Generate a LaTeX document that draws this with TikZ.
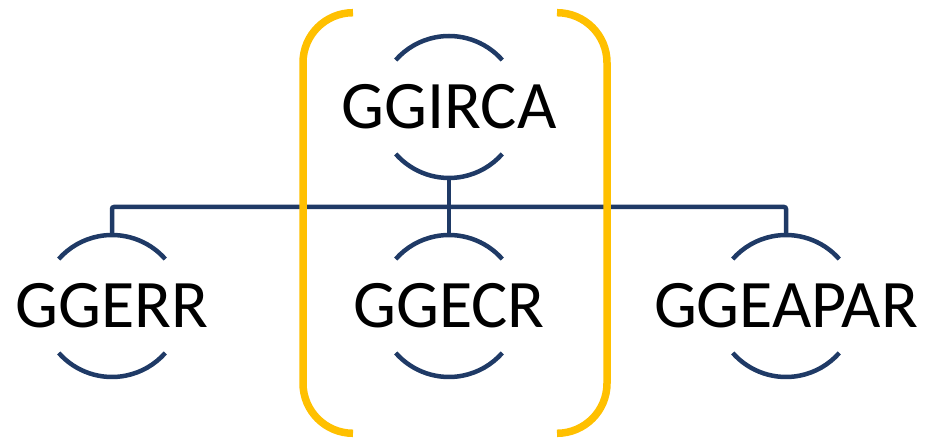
\documentclass[tikz,border=0pt]{standalone}
\usepackage{fontspec}
\setmainfont{Carlito}
\definecolor{navy}{RGB}{31,58,102}
\definecolor{gold}{RGB}{255,192,0}
\begin{document}
\begin{tikzpicture}[x=1pt,y=1pt,
  lbl/.style={inner sep=0pt, text=black, font=\fontsize{68}{80}\selectfont},
  ring/.style={draw=navy, line width=4.5pt},
  link/.style={draw=navy, line width=4.5pt, rounded corners=2pt},
  brk/.style={draw=gold, line width=7.5pt}]
\useasboundingbox (0,0) rectangle (936,439);
% nodes
\node[lbl] (ircA) at (449,332) {GGIRCA};
\node[lbl] (err)  at (112,133) {GGERR};
\node[lbl] (ecr)  at (449,133) {GGECR};
\node[lbl] (apar) at (786,133) {GGEAPAR};
% rings
\foreach \n in {ircA,err,ecr,apar}{
  \draw[ring] ([shift={(41.4:71)}]\n.center) arc[start angle=41.4,end angle=138.6,radius=71];
  \draw[ring] ([shift={(221.4:71)}]\n.center) arc[start angle=221.4,end angle=318.6,radius=71];
}
% bar
\coordinate (barL) at (112,232);
\draw[link] ([yshift=71]err.center) -- (err.center |- barL) -- (apar.center |- barL) -- ([yshift=71]apar.center);
\draw[link] ([yshift=-71]ircA.center) -- (ircA.center |- barL);
\draw[link] (ecr.center |- barL) -- ([yshift=71]ecr.center);
% brackets
\draw[brk] (353,426.3) arc[start angle=90,end angle=180,radius=50] -- (303,55.7) arc[start angle=180,end angle=270,radius=50];
\draw[brk] (557,426.3) arc[start angle=90,end angle=0,radius=50] -- (607,55.7) arc[start angle=0,end angle=-90,radius=50];
\end{tikzpicture}
\end{document}
